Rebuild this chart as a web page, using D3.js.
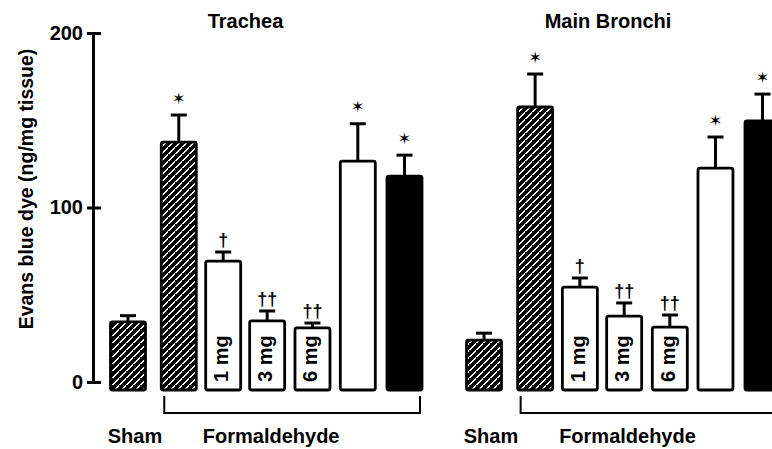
<!DOCTYPE html>
<html><head><meta charset="utf-8">
<script src="https://cdn.jsdelivr.net/npm/d3@7"></script>
<style>
body{margin:0;background:#fff}
svg{display:block}
text{font-family:"Liberation Sans",Arial,sans-serif;font-weight:bold;fill:#000}
</style>
</head><body><svg id="c" width="772" height="449"></svg>
<script>
// ---- data ----
const categories = ["Sham", "Formaldehyde", "1 mg", "3 mg", "6 mg", "Formaldehyde B", "Formaldehyde C"];
const slots = [0, 1.12, 2.1, 3.07, 4.07, 5.07, 6.1];
const fills = ["hatch", "hatch", "white", "white", "white", "white", "black"];
const innerLabels = ["", "", "1 mg", "3 mg", "6 mg", "", ""];
const marks = ["", "✶", "†", "††", "††", "✶", "✶"];
const panelTitles = ["Trachea", "Main Bronchi"];
const tracheaValues = [34.4, 137.5, 69.3, 35.0, 31.0, 126.6, 118.0];
const tracheaErrors = [3.6, 15.5, 5.2, 5.7, 2.8, 21.4, 12.0];
const bronchiValues = [24.0, 157.6, 54.4, 37.8, 31.5, 122.6, 149.6];
const bronchiErrors = [4.0, 18.9, 5.2, 7.5, 6.9, 17.8, 15.4];
const yTicks = [0, 100, 200];
const yLabel = "Evans blue dye (ng/mg tissue)";
const groupLabels = ["Sham", "Formaldehyde"];

// ---- chart ----
const svg = d3.select("#c");
const y = d3.scaleLinear().domain([0, 200]).range([382, 33]);
const baseY = y(0) + 8;
const barW = 35;

// pixel-style diagonal hatch (white "/" stripes on black)
const P = 7;
const defs = svg.append("defs");
const pat = defs.append("pattern").attr("id", "hatch")
  .attr("patternUnits", "userSpaceOnUse").attr("width", P).attr("height", P);
pat.append("rect").attr("width", P).attr("height", P).attr("fill", "#000");
pat.selectAll("rect.px").data(d3.range(P)).join("rect").attr("class", "px")
  .attr("x", i => i).attr("y", i => P - 1 - i).attr("width", 2).attr("height", 1)
  .attr("fill", "#fff").attr("shape-rendering", "crispEdges");
pat.append("rect").attr("x", -1).attr("y", P - 1).attr("width", 1).attr("height", 1)
  .attr("fill", "#fff").attr("shape-rendering", "crispEdges");
pat.append("rect").attr("x", 0).attr("y", P - 1).attr("width", 1).attr("height", 1)
  .attr("fill", "#fff").attr("shape-rendering", "crispEdges");

// y axis
const yAxis = d3.axisLeft(y).tickValues(yTicks).tickSizeOuter(0).tickSizeInner(6).tickPadding(4);
const ga = svg.append("g").attr("transform", "translate(93,0)").call(yAxis)
  .attr("font-family", null).attr("font-size", null);
ga.select(".domain").attr("stroke", "#000").attr("stroke-width", 3);
ga.selectAll(".tick line").attr("x1", 8).attr("stroke", "#000").attr("stroke-width", 3);
ga.selectAll(".tick text").style("font-size", "20px").attr("fill", "#000");

svg.append("text")
  .attr("transform", `translate(33,189) rotate(-90)`)
  .attr("text-anchor", "middle").style("font-size", "19.5px").text(yLabel);

const panels = [
  {title: panelTitles[0], values: tracheaValues, errors: tracheaErrors, range: [128, 404.5], titleX: 245.5},
  {title: panelTitles[1], values: bronchiValues, errors: bronchiErrors, range: [484, 762.5], titleX: 608}
];

panels.forEach(p => {
  const x = d3.scaleLinear().domain([0, 6.1]).range(p.range);
  const data = categories.map((c, i) => ({
    cat: c, slot: slots[i], v: p.values[i], e: p.errors[i],
    fill: fills[i], label: innerLabels[i], mark: marks[i]
  }));
  const g = svg.append("g");

  svg.append("text").attr("x", p.titleX).attr("y", 28).attr("text-anchor", "middle")
    .style("font-size", "20px").text(p.title);

  // error bars
  g.selectAll(".err").data(data).join("line")
    .attr("x1", d => x(d.slot)).attr("x2", d => x(d.slot))
    .attr("y1", d => y(d.v)).attr("y2", d => y(d.v + d.e))
    .attr("stroke", "#000").attr("stroke-width", 3);
  g.selectAll(".cap").data(data).join("line")
    .attr("x1", d => x(d.slot) - 8).attr("x2", d => x(d.slot) + 8)
    .attr("y1", d => y(d.v + d.e)).attr("y2", d => y(d.v + d.e))
    .attr("stroke", "#000").attr("stroke-width", 3);

  // bars
  g.selectAll(".bar").data(data).join("rect")
    .attr("x", d => x(d.slot) - barW / 2).attr("width", barW)
    .attr("y", d => y(d.v)).attr("height", d => baseY - y(d.v))
    .attr("rx", 2)
    .attr("fill", d => d.fill === "hatch" ? "url(#hatch)" : (d.fill === "black" ? "#000" : "#fff"))
    .attr("stroke", "#000").attr("stroke-width", 2.8);

  // inner labels
  g.selectAll(".inl").data(data.filter(d => d.label)).join("text")
    .attr("transform", d => `translate(${x(d.slot) + 5},${y(0)}) rotate(-90)`)
    .style("font-size", "20px").text(d => d.label);

  // significance marks
  g.selectAll(".mk").data(data.filter(d => d.mark)).join("text")
    .attr("x", d => x(d.slot))
    .attr("y", d => d.mark === "✶" ? y(d.v + d.e) - 17 : y(d.v + d.e) - 6)
    .attr("text-anchor", "middle")
    .attr("dominant-baseline", d => d.mark === "✶" ? "central" : null)
    .style("font-family", d => d.mark === "✶" ? "'DejaVu Sans'" : null)
    .style("font-weight", d => d.mark === "✶" ? "normal" : "bold")
    .style("font-size", d => d.mark === "✶" ? "16px" : "18px")
    .text(d => d.mark);

  // bracket
  const bx0 = x(slots[1]) - barW / 2 + 3;
  const bx1 = x(slots[6]) + barW / 2 - 2;
  svg.append("path")
    .attr("d", `M${bx0},${baseY + 6}V${baseY + 23}H${bx1}V${baseY + 6}`)
    .attr("fill", "none").attr("stroke", "#000").attr("stroke-width", 2);

  svg.append("text").attr("x", x(slots[0]) + 7).attr("y", 443).attr("text-anchor", "middle")
    .style("font-size", "20px").text(groupLabels[0]);
  svg.append("text").attr("x", x(slots[1]) + 24).attr("y", 443)
    .style("font-size", "20px").text(groupLabels[1]);
});
</script>
</body></html>
